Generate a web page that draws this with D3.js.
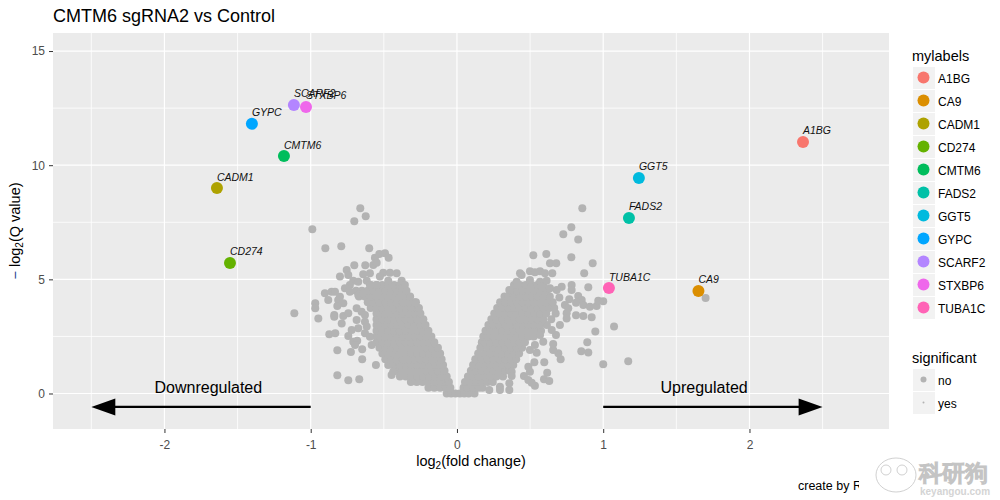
<!DOCTYPE html>
<html>
<head>
<meta charset="utf-8">
<script src="https://cdn.jsdelivr.net/npm/d3@7"></script>
<style>
  html, body { margin: 0; padding: 0; background: #fff; }
  svg { display: block; }
  text { font-family: "Liberation Sans", Arial, sans-serif; }
</style>
</head>
<body>
<svg id="chart" width="1000" height="500"></svg>
<script>
// Labelled genes.
const mylabels = ["A1BG", "CA9", "CADM1", "CD274", "CMTM6", "FADS2", "GGT5", "GYPC", "SCARF2", "STXBP6", "TUBA1C"];
const labelFc = [2.366, 1.651, -1.641, -1.552, -1.183, 1.176, 1.244, -1.402, -1.115, -1.032, 1.039];
const labelQ = [11.02, 4.49, 9.0, 5.72, 10.4, 7.69, 9.44, 11.81, 12.64, 12.55, 4.62];
const labelColours = ["#F8766D", "#DB8E00", "#AEA200", "#64B200", "#00BD5C", "#00C1A7", "#00BADE", "#00A6FF", "#B385FF", "#EF67EB", "#FF63B6"];

const significant = ["no", "yes"];
const xTicks = [-2, -1, 0, 1, 2];
const yTicks = [0, 5, 10, 15];
const xMinor = [-2.5, -1.5, -0.5, 0.5, 1.5, 2.5];
const yMinor = [2.5, 7.5, 12.5];

// Grey genes off the main cloud, [log2 fold change, -log2 Q].
const scatterLeft = [
  [-0.661,8.11],[-0.624,7.76],[-0.702,7.54],[-0.989,7.19],[-0.90,6.36],[-0.791,6.45],[-0.60,6.36],[-0.702,5.62],
  [-0.627,5.62],[-0.561,5.95],[-0.531,6.11],[-0.492,6.14],[-0.467,5.95],[-0.572,5.63],[-0.549,5.73],[-0.754,5.41],
  [-0.743,5.19],[-0.80,5.12],[-0.641,5.22],[-0.595,5.27],[-0.504,5.29],[-0.458,5.29],[-0.412,5.27],[-0.527,5.12],
  [-0.378,4.94],[-0.356,4.75],[-0.47,4.94],[-0.709,4.94],[-0.675,4.90],[-0.617,4.94],[-0.549,4.75],[-0.595,4.75],
  [-0.732,4.75],[-0.766,4.61],[-0.903,4.39],[-0.857,4.46],[-0.834,4.46],[-0.88,4.10],[-0.80,4.24],[-0.812,4.10],
  [-0.732,4.46],[-0.675,4.31],[-0.641,4.39],[-0.777,3.95],[-0.818,3.83],[-0.969,3.95],[-0.969,3.73],[-1.112,3.51],
  [-0.948,3.29],[-0.839,3.44],[-0.839,3.36],[-0.777,3.39],[-0.743,3.51],[-0.686,3.73],[-0.652,3.58],[-0.629,3.44],
  [-0.686,3.22],[-0.629,3.14],[-0.788,3.07],[-0.617,2.93],[-0.675,2.86],[-0.72,2.78],[-0.743,2.52],[-0.629,2.64],
  [-0.873,2.59],[-0.832,2.64],[-0.595,2.49],[-0.709,2.27],[-0.682,2.31],[-0.697,2.12],[-0.583,2.12],[-0.818,1.89],
  [-0.725,1.82],[-0.648,1.94],[-0.648,1.50],[-0.554,1.25],[-0.818,0.80],[-0.743,0.58],[-0.668,0.62],[-0.436,0.95],
  [-0.447,0.81]
];
const scatterRight = [
  [0.857,8.11],[0.782,7.28],[0.727,6.97],[0.829,6.75],[0.522,6.05],[0.611,6.11],[0.782,5.97],[0.928,5.70],
  [0.636,5.70],[0.679,5.70],[0.870,5.27],[0.652,5.27],[0.499,5.35],[0.533,5.31],[0.568,5.35],[0.602,5.27],
  [0.431,5.27],[0.442,5.19],[0.408,4.90],[0.499,4.97],[0.568,4.90],[0.613,4.94],[0.636,4.61],[0.579,4.68],
  [0.898,4.65],[0.784,4.75],[0.784,4.53],[0.716,4.68],[0.682,4.53],[0.358,4.53],[0.70,4.21],[0.768,4.13],
  [0.829,4.27],[0.853,4.10],[0.814,3.98],[0.864,3.88],[0.909,3.80],[0.955,3.83],[0.966,4.06],[1.0,4.04],
  [0.738,3.88],[0.761,3.73],[0.75,3.51],[0.75,3.29],[0.814,3.43],[0.864,3.39],[0.921,3.34],[1.074,2.94],
  [0.946,2.72],[0.891,2.24],[0.85,1.85],[0.898,1.80],[1.0,1.28],[1.171,1.41],[0.709,1.50],[0.693,1.76],
  [0.658,1.91],[0.658,2.17],[0.597,1.37],[0.529,1.37],[0.545,1.79],[0.499,1.91],[0.533,2.12],[0.59,2.27],
  [0.568,2.56],[0.677,2.56],[0.648,2.78],[0.704,3.0],[0.488,1.17],[0.499,0.95],[0.458,0.77],[0.488,0.59],
  [0.533,0.34],[0.511,0.47],[0.617,0.91],[0.595,0.62],[0.631,0.55],[0.374,0.95],[0.374,0.77],[0.358,0.45],
  [0.294,0.30],[0.358,0.15],[0.294,0.15],[0.221,0.15],[1.70,4.18]
];

// Dense part of the cloud, one row per Q level: [q, [fold changes]].
const cloudLeft = [
  [0, [-0.07,-0.04,-0.01]],
  [0.25, [-0.195,-0.155,-0.115,-0.075,-0.045]],
  [0.5, [-0.315,-0.275,-0.235,-0.195,-0.155,-0.115,-0.075,-0.055]],
  [0.75, [-0.39,-0.35,-0.31,-0.27,-0.23,-0.19,-0.15,-0.11,-0.07]],
  [1, [-0.43,-0.41,-0.37,-0.33,-0.29,-0.25,-0.21,-0.17,-0.13,-0.085]],
  [1.25, [-0.47,-0.43,-0.39,-0.35,-0.31,-0.27,-0.23,-0.19,-0.15,-0.11,-0.095]],
  [1.5, [-0.49,-0.45,-0.41,-0.37,-0.33,-0.29,-0.25,-0.21,-0.17,-0.13,-0.105]],
  [1.75, [-0.51,-0.47,-0.43,-0.39,-0.35,-0.31,-0.27,-0.23,-0.19,-0.15,-0.115]],
  [2, [-0.53,-0.49,-0.45,-0.41,-0.37,-0.33,-0.29,-0.25,-0.21,-0.17,-0.13]],
  [2.25, [-0.55,-0.51,-0.47,-0.43,-0.39,-0.35,-0.31,-0.27,-0.23,-0.19,-0.155]],
  [2.5, [-0.55,-0.53,-0.49,-0.45,-0.41,-0.37,-0.33,-0.29,-0.25,-0.21,-0.175]],
  [2.75, [-0.55,-0.51,-0.47,-0.43,-0.39,-0.35,-0.31,-0.27,-0.23,-0.195]],
  [3, [-0.55,-0.53,-0.49,-0.45,-0.41,-0.37,-0.33,-0.29,-0.25,-0.215]],
  [3.25, [-0.55,-0.51,-0.47,-0.43,-0.39,-0.35,-0.31,-0.27,-0.23]],
  [3.5, [-0.55,-0.53,-0.49,-0.45,-0.41,-0.37,-0.33,-0.29,-0.25]],
  [3.75, [-0.59,-0.55,-0.51,-0.47,-0.43,-0.39,-0.35,-0.31,-0.27,-0.26]],
  [4, [-0.61,-0.57,-0.53,-0.49,-0.45,-0.41,-0.37,-0.33,-0.29,-0.28]],
  [4.25, [-0.67,-0.63,-0.59,-0.55,-0.51,-0.47,-0.43,-0.39,-0.35,-0.32]],
  [4.5, [-0.69,-0.65,-0.61,-0.57,-0.53,-0.49,-0.45,-0.41,-0.37,-0.345]],
  [4.75, [-0.59,-0.55,-0.51,-0.47,-0.43,-0.39,-0.37]]
];
const cloudRight = [
  [0, [0.02,0.05,0.08,0.12]],
  [0.25, [0.045,0.07,0.11,0.15,0.175]],
  [0.5, [0.055,0.09,0.13,0.17,0.21,0.245]],
  [0.75, [0.075,0.11,0.15,0.19,0.23,0.27,0.315]],
  [1, [0.095,0.13,0.17,0.21,0.25,0.29,0.33,0.36]],
  [1.25, [0.11,0.15,0.19,0.23,0.27,0.31,0.35,0.385]],
  [1.5, [0.125,0.17,0.21,0.25,0.29,0.33,0.37,0.405]],
  [1.75, [0.145,0.19,0.23,0.27,0.31,0.35,0.39,0.425]],
  [2, [0.16,0.21,0.25,0.29,0.33,0.37,0.41,0.445]],
  [2.25, [0.17,0.19,0.23,0.27,0.31,0.35,0.39,0.43,0.465]],
  [2.5, [0.18,0.21,0.25,0.29,0.33,0.37,0.41,0.45,0.49,0.525]],
  [2.75, [0.195,0.23,0.27,0.31,0.35,0.39,0.43,0.47,0.51,0.55,0.575]],
  [3, [0.215,0.25,0.29,0.33,0.37,0.41,0.45,0.49,0.53,0.57,0.615]],
  [3.25, [0.235,0.27,0.31,0.35,0.39,0.43,0.47,0.51,0.55,0.59,0.645]],
  [3.5, [0.255,0.29,0.33,0.37,0.41,0.45,0.49,0.53,0.57,0.61,0.675]],
  [3.75, [0.275,0.31,0.35,0.39,0.43,0.47,0.51,0.55,0.59,0.63,0.665]],
  [4, [0.295,0.33,0.37,0.41,0.45,0.49,0.53,0.57,0.61,0.655]],
  [4.25, [0.325,0.35,0.39,0.43,0.47,0.51,0.55,0.59,0.635]],
  [4.5, [0.365,0.41,0.45,0.49,0.53,0.57,0.615]],
  [4.75, [0.39,0.43,0.47,0.51,0.55,0.59]]
];

// Arrow annotations: fold change from, fold change to, Q level.
const arrowRows = [
  {from: -1, to: -2.5, q: -0.59, text: "Downregulated", textAt: -1.7},
  {from: 1, to: 2.5, q: -0.59, text: "Upregulated", textAt: 1.69}
];

const panel = {left: 53, right: 889, top: 33, bottom: 429};
const svg = d3.select("#chart");

const x = d3.scaleLinear().domain([-2.762, 2.954]).range([panel.left, panel.right]);
const y = d3.scaleLinear().domain([-1.555, 15.79]).range([panel.bottom, panel.top]);

// Panel background and grid.
svg.append("rect")
  .attr("x", panel.left).attr("y", panel.top)
  .attr("width", panel.right - panel.left).attr("height", panel.bottom - panel.top)
  .attr("fill", "#EBEBEB");

const grid = svg.append("g").attr("stroke", "#fff");
grid.selectAll(".vminor").data(xMinor).enter().append("line").attr("class", "vminor")
  .attr("x1", x).attr("x2", x).attr("y1", panel.top).attr("y2", panel.bottom).attr("stroke-width", 0.8);
grid.selectAll(".hminor").data(yMinor).enter().append("line").attr("class", "hminor")
  .attr("y1", y).attr("y2", y).attr("x1", panel.left).attr("x2", panel.right).attr("stroke-width", 0.8);
grid.selectAll(".vmajor").data(xTicks).enter().append("line").attr("class", "vmajor")
  .attr("x1", x).attr("x2", x).attr("y1", panel.top).attr("y2", panel.bottom).attr("stroke-width", 1.2);
grid.selectAll(".hmajor").data(yTicks).enter().append("line").attr("class", "hmajor")
  .attr("y1", y).attr("y2", y).attr("x1", panel.left).attr("x2", panel.right).attr("stroke-width", 1.2);

// Axes. Tick labels keep the plain hyphen of the reference.
const tickText = function(d) { return String(d); };
const xAxis = svg.append("g")
  .attr("transform", "translate(0," + panel.bottom + ")")
  .call(d3.axisBottom(x).tickValues(xTicks).tickSize(4).tickPadding(7).tickFormat(tickText));
const yAxis = svg.append("g")
  .attr("transform", "translate(" + panel.left + ",0)")
  .call(d3.axisLeft(y).tickValues(yTicks).tickSize(4).tickPadding(4).tickFormat(tickText));
[xAxis, yAxis].forEach(function(axis) {
  axis.select(".domain").remove();
  axis.selectAll("line").attr("stroke", "#333");
  axis.selectAll("text").attr("fill", "#4D4D4D").attr("font-size", 12)
    .attr("font-family", "'Liberation Sans', Arial, sans-serif");
});

// Grey points: flatten the rows into [fc, q] pairs.
const cloud = cloudLeft.concat(cloudRight).flatMap(function(row) {
  return row[1].map(function(fc) { return [fc, row[0]]; });
});
const greys = cloud.concat(scatterLeft, scatterRight);

svg.append("g").selectAll("circle").data(greys).enter().append("circle")
  .attr("cx", function(d) { return x(d[0]); })
  .attr("cy", function(d) { return y(d[1]); })
  .attr("r", 4)
  .attr("fill", "#B3B3B3");

// Labelled points.
const genes = svg.append("g").selectAll("g").data(mylabels).enter().append("g");
genes.append("circle")
  .attr("cx", function(d, i) { return x(labelFc[i]); })
  .attr("cy", function(d, i) { return y(labelQ[i]); })
  .attr("r", 6)
  .attr("fill", function(d, i) { return labelColours[i]; });
genes.append("text")
  .attr("x", function(d, i) { return x(labelFc[i]); })
  .attr("y", function(d, i) { return y(labelQ[i]) - 7.5; })
  .attr("font-size", 10.5)
  .attr("font-style", "italic")
  .attr("fill", "#111")
  .text(function(d) { return d; });

// Arrows and their captions.
arrowRows.forEach(function(a) {
  const dir = a.to > a.from ? 1 : -1;
  const tip = x(a.to), py = y(a.q);
  svg.append("line")
    .attr("x1", x(a.from)).attr("x2", tip - dir * 20)
    .attr("y1", py).attr("y2", py)
    .attr("stroke", "#000").attr("stroke-width", 2.2);
  svg.append("path")
    .attr("d", d3.line()([[tip, py], [tip - dir * 24, py - 8.5], [tip - dir * 24, py + 8.5]]) + "Z")
    .attr("fill", "#000");
  svg.append("text")
    .attr("x", x(a.textAt)).attr("y", py - 14)
    .attr("text-anchor", "middle").attr("font-size", 16).attr("fill", "#000")
    .text(a.text);
});

// Titles.
svg.append("text").attr("x", 53).attr("y", 22).attr("font-size", 18).attr("fill", "#000")
  .text("CMTM6 sgRNA2 vs Control");

const xTitle = svg.append("text").attr("x", 471).attr("y", 466)
  .attr("text-anchor", "middle").attr("font-size", 14.5).attr("fill", "#000");
xTitle.append("tspan").text("log");
xTitle.append("tspan").attr("dy", 3).attr("font-size", 10).text("2");
xTitle.append("tspan").attr("dy", -3).text("(fold change)");

const yTitle = svg.append("text").attr("transform", "translate(20,231) rotate(-90)")
  .attr("text-anchor", "middle").attr("font-size", 14.5).attr("fill", "#000");
yTitle.append("tspan").attr("fill", "#1f3f8f").text("− ");
yTitle.append("tspan").text("log");
yTitle.append("tspan").attr("dy", 3).attr("font-size", 10).text("2");
yTitle.append("tspan").attr("dy", -3).text("(Q value)");

// Caption is cut off by the plot edge in the reference.
svg.append("clipPath").attr("id", "captionClip").append("rect")
  .attr("x", 780).attr("y", 470).attr("width", 79).attr("height", 30);
svg.append("text").attr("x", 798).attr("y", 490).attr("font-size", 12.5).attr("fill", "#000")
  .attr("clip-path", "url(#captionClip)")
  .text("create by R");

// Legends.
const keyX = 913, keySize = 22, keyStep = 23;
function legend(title, titleY, keys, colour, radius) {
  svg.append("text").attr("x", 912).attr("y", titleY).attr("font-size", 14.5).attr("fill", "#000").text(title);
  const rows = svg.append("g").selectAll("g").data(keys).enter().append("g")
    .attr("transform", function(d, i) { return "translate(0," + (titleY + 6 + i * keyStep) + ")"; });
  rows.append("rect").attr("x", keyX).attr("width", keySize).attr("height", keySize).attr("fill", "#F2F2F2");
  rows.append("circle").attr("cx", keyX + 10.5).attr("cy", 10.5).attr("r", radius).attr("fill", colour);
  rows.append("text").attr("x", keyX + 25).attr("y", 15.5).attr("font-size", 12).attr("fill", "#000")
    .text(function(d) { return d; });
}
legend("mylabels", 61, mylabels, function(d, i) { return labelColours[i]; }, 6);
legend("significant", 363, significant, "#B3B3B3", function(d, i) { return i === 0 ? 3 : 1; });

// Watermark in the corner.
const mark = svg.append("g").attr("fill", "#fff").attr("stroke", "#c4c4c4").attr("stroke-width", 0.8);
mark.append("ellipse").attr("cx", 896).attr("cy", 475).attr("rx", 20).attr("ry", 17);
mark.append("circle").attr("cx", 886).attr("cy", 470).attr("r", 5);
mark.append("circle").attr("cx", 902).attr("cy", 470).attr("r", 5);
mark.append("text").attr("x", 919).attr("y", 481).attr("font-size", 23)
  .attr("font-family", "'Noto Sans CJK SC'").attr("font-weight", 700).text("科研狗");
svg.append("text").attr("x", 920).attr("y", 495).attr("font-size", 10).attr("font-weight", 700)
  .attr("fill", "#d4d4d4").text("keyangou.com");
</script>
</body>
</html>
